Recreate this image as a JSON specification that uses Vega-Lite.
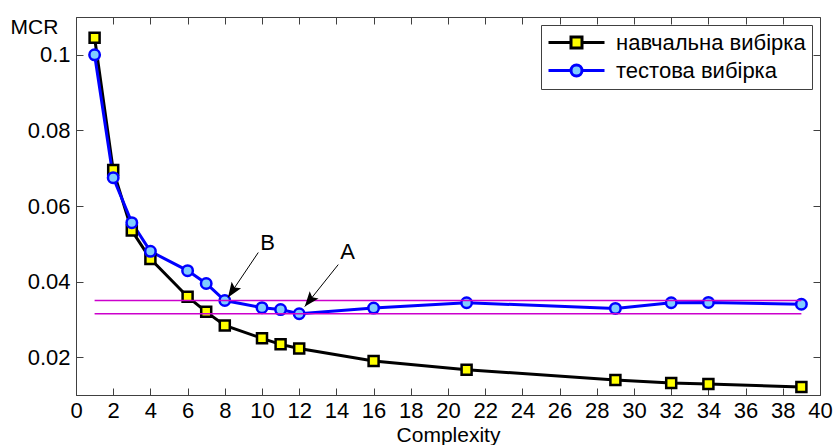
{
  "$schema": "https://vega.github.io/schema/vega-lite/v6.json",
  "width": 744,
  "height": 378,
  "autosize": {"type": "none"},
  "padding": {"left": 76, "top": 17, "right": 13, "bottom": 50},
  "background": "white",
  "config": {
    "font": "Liberation Sans",
    "view": {"stroke": "#404040", "strokeWidth": 1},
    "axis": {"grid": false, "domainColor": "#404040", "tickColor": "#404040", "labelFont": "Liberation Sans", "titleFont": "Liberation Sans", "labelColor": "black", "titleColor": "black", "titleFontWeight": "normal", "labelFlush": false}
  },
  "datasets": {
    "curves": [
      {"complexity": 1, "mcr": 0.1045, "series": "навчальна вибірка"},
      {"complexity": 2, "mcr": 0.0695, "series": "навчальна вибірка"},
      {"complexity": 3, "mcr": 0.0535, "series": "навчальна вибірка"},
      {"complexity": 4, "mcr": 0.046, "series": "навчальна вибірка"},
      {"complexity": 6, "mcr": 0.036, "series": "навчальна вибірка"},
      {"complexity": 7, "mcr": 0.032, "series": "навчальна вибірка"},
      {"complexity": 8, "mcr": 0.0284, "series": "навчальна вибірка"},
      {"complexity": 10, "mcr": 0.025, "series": "навчальна вибірка"},
      {"complexity": 11, "mcr": 0.0234, "series": "навчальна вибірка"},
      {"complexity": 12, "mcr": 0.0223, "series": "навчальна вибірка"},
      {"complexity": 16, "mcr": 0.019, "series": "навчальна вибірка"},
      {"complexity": 21, "mcr": 0.0167, "series": "навчальна вибірка"},
      {"complexity": 29, "mcr": 0.014, "series": "навчальна вибірка"},
      {"complexity": 32, "mcr": 0.0132, "series": "навчальна вибірка"},
      {"complexity": 34, "mcr": 0.0129, "series": "навчальна вибірка"},
      {"complexity": 39, "mcr": 0.0121, "series": "навчальна вибірка"},
      {"complexity": 1, "mcr": 0.1, "series": "тестова вибірка"},
      {"complexity": 2, "mcr": 0.0675, "series": "тестова вибірка"},
      {"complexity": 3, "mcr": 0.0556, "series": "тестова вибірка"},
      {"complexity": 4, "mcr": 0.048, "series": "тестова вибірка"},
      {"complexity": 6, "mcr": 0.0429, "series": "тестова вибірка"},
      {"complexity": 7, "mcr": 0.0395, "series": "тестова вибірка"},
      {"complexity": 8, "mcr": 0.035, "series": "тестова вибірка"},
      {"complexity": 10, "mcr": 0.0331, "series": "тестова вибірка"},
      {"complexity": 11, "mcr": 0.0326, "series": "тестова вибірка"},
      {"complexity": 12, "mcr": 0.0315, "series": "тестова вибірка"},
      {"complexity": 16, "mcr": 0.033, "series": "тестова вибірка"},
      {"complexity": 21, "mcr": 0.0344, "series": "тестова вибірка"},
      {"complexity": 29, "mcr": 0.0329, "series": "тестова вибірка"},
      {"complexity": 32, "mcr": 0.0344, "series": "тестова вибірка"},
      {"complexity": 34, "mcr": 0.0345, "series": "тестова вибірка"},
      {"complexity": 39, "mcr": 0.034, "series": "тестова вибірка"}
    ],
    "levels": [
      {"from": 1, "to": 39, "mcr": 0.035},
      {"from": 1, "to": 39, "mcr": 0.0315}
    ],
    "arrows": [
      {"label": "B", "tx": 10.3, "ty": 0.0503, "x0": 9.8, "y0": 0.0477, "x1": 8.17, "y1": 0.0358},
      {"label": "A", "tx": 14.6, "ty": 0.0477, "x0": 14.1, "y0": 0.0445, "x1": 12.3, "y1": 0.0334}
    ]
  },
  "resolve": {"axis": {"x": "independent", "y": "independent"}},
  "layer": [
    {
      "data": {"name": "curves"},
      "mark": {"type": "line", "strokeWidth": 3},
      "encoding": {
        "x": {"field": "complexity", "type": "quantitative", "scale": {"domain": [0, 40], "nice": false},
          "axis": {"orient": "bottom", "values": [0,2,4,6,8,10,12,14,16,18,20,22,24,26,28,30,32,34,36,38,40], "tickSize": -7, "labelPadding": 12, "labelFontSize": 22, "labelOverlap": false, "title": "Complexity", "titleFontSize": 21, "titlePadding": 3}},
        "y": {"field": "mcr", "type": "quantitative", "scale": {"domain": [0.01, 0.11], "nice": false, "zero": false},
          "axis": {"orient": "left", "values": [0.02, 0.04, 0.06, 0.08, 0.1], "format": ".2~f", "tickSize": -7, "labelPadding": 13, "labelFontSize": 22, "title": "MCR", "titleAngle": 0, "titleAlign": "left", "titleBaseline": "alphabetic", "titleFontSize": 21, "titleX": -66, "titleY": 16}},
        "color": {"field": "series", "type": "nominal",
          "scale": {"domain": ["навчальна вибірка", "тестова вибірка"], "range": ["#000000", "#0000ff"]},
          "legend": {"title": null, "orient": "top-right", "offset": 8, "labelFontSize": 22, "labelFont": "Liberation Sans", "labelLimit": 400, "labelOffset": 46,
            "symbolSize": 400, "symbolStrokeWidth": 3, "rowPadding": 4, "padding": 6,
            "strokeColor": "#404040", "fillColor": "white",
            "encode": {"symbols": {"update": {
              "shape": {"signal": "datum.value == 'навчальна вибірка' ? 'M-1,0 H1.25 M2.35,0 H4.6 M1.25,-0.55 H2.35 V0.55 H1.25 Z' : 'M-1,0 H1.25 M2.35,0 H4.6 M1.25,0 A0.55,0.55 0 1,1 2.35,0 A0.55,0.55 0 1,1 1.25,0 Z'"},
              "fill": {"signal": "datum.value == 'навчальна вибірка' ? '#ffff00' : '#80ccff'"},
              "fillOpacity": {"value": 1}
            }}}}
        },
        "order": {"field": "complexity", "type": "quantitative"}
      }
    },
    {
      "data": {"name": "curves"},
      "transform": [{"filter": "datum.series == 'навчальна вибірка'"}],
      "mark": {"type": "point", "shape": "square", "filled": true, "fill": "#ffff00", "stroke": "#000000", "strokeWidth": 2.5, "size": 100, "opacity": 1},
      "encoding": {
        "x": {"field": "complexity", "type": "quantitative", "axis": null},
        "y": {"field": "mcr", "type": "quantitative", "axis": null}
      }
    },
    {
      "data": {"name": "curves"},
      "transform": [{"filter": "datum.series == 'тестова вибірка'"}],
      "mark": {"type": "point", "shape": "circle", "filled": true, "fill": "#80ccff", "stroke": "#0000ff", "strokeWidth": 2.5, "size": 110, "opacity": 1},
      "encoding": {
        "x": {"field": "complexity", "type": "quantitative", "axis": null},
        "y": {"field": "mcr", "type": "quantitative", "axis": null}
      }
    },
    {
      "data": {"name": "levels"},
      "mark": {"type": "rule", "color": "#cc00cc", "strokeWidth": 1.5},
      "encoding": {
        "x": {"field": "from", "type": "quantitative", "axis": {"orient": "top", "values": [0,2,4,6,8,10,12,14,16,18,20,22,24,26,28,30,32,34,36,38,40], "labels": false, "domain": false, "tickSize": -7, "title": null}},
        "x2": {"field": "to"},
        "y": {"field": "mcr", "type": "quantitative", "axis": {"orient": "right", "values": [0.02, 0.04, 0.06, 0.08, 0.1], "labels": false, "domain": false, "tickSize": -7, "title": null}}
      }
    },
    {
      "data": {"name": "arrows"},
      "mark": {"type": "rule", "color": "#000000", "strokeWidth": 1},
      "encoding": {
        "x": {"field": "x0", "type": "quantitative", "axis": null},
        "y": {"field": "y0", "type": "quantitative", "axis": null},
        "x2": {"field": "x1"},
        "y2": {"field": "y1"}
      }
    },
    {
      "data": {"name": "arrows"},
      "transform": [{"filter": "datum.label == 'B'"}],
      "mark": {"type": "point", "shape": "M0,0 L-0.38,1 L0,0.8 L0.38,1 Z", "filled": true, "color": "#000000", "opacity": 1, "size": 900, "angle": 214, "strokeWidth": 0},
      "encoding": {
        "x": {"field": "x1", "type": "quantitative", "axis": null},
        "y": {"field": "y1", "type": "quantitative", "axis": null}
      }
    },
    {
      "data": {"name": "arrows"},
      "transform": [{"filter": "datum.label == 'A'"}],
      "mark": {"type": "point", "shape": "M0,0 L-0.38,1 L0,0.8 L0.38,1 Z", "filled": true, "color": "#000000", "opacity": 1, "size": 900, "angle": 218.6, "strokeWidth": 0},
      "encoding": {
        "x": {"field": "x1", "type": "quantitative", "axis": null},
        "y": {"field": "y1", "type": "quantitative", "axis": null}
      }
    },
    {
      "data": {"name": "arrows"},
      "mark": {"type": "text", "fontSize": 22, "font": "Liberation Sans", "color": "#000000", "align": "center", "baseline": "middle"},
      "encoding": {
        "x": {"field": "tx", "type": "quantitative", "axis": null},
        "y": {"field": "ty", "type": "quantitative", "axis": null},
        "text": {"field": "label"}
      }
    }
  ]
}
